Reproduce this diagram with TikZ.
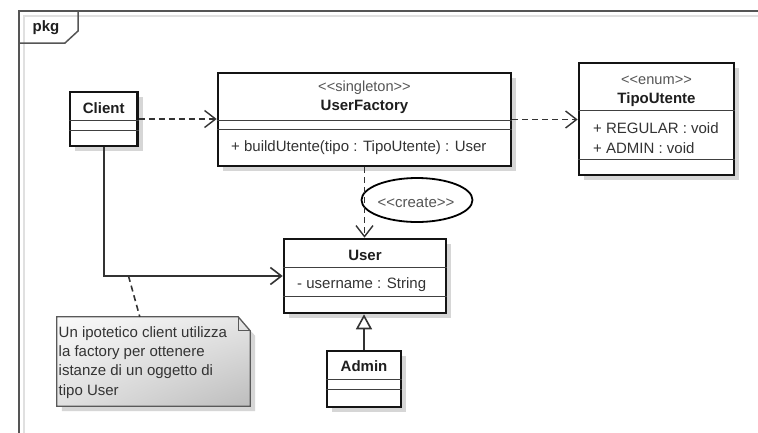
\documentclass[tikz,border=0pt]{standalone}
\usepackage{fontspec}
\setmainfont{Liberation Sans}
\usetikzlibrary{arrows.meta,shadows,calc,shapes.geometric,shadings}

% guillemet-free stereotype brackets (a kern stops the TeX ligature mapping)
\newcommand\stlt{<\kern0pt<}
\newcommand\stgt{>\kern0pt>}

\definecolor{inkname}{HTML}{1E1E1E}
\definecolor{inkmember}{HTML}{333333}
\definecolor{inkstereo}{HTML}{555555}
\definecolor{framegray}{HTML}{555555}

\begin{document}
\begin{tikzpicture}[x=1pt,y=-1pt,
  every node/.style={font=\fontsize{15}{17.5}\selectfont},
  classbox/.style={draw=black!92, line width=2.6pt, fill=white, inner sep=0pt,
    drop shadow={shadow xshift=5pt, shadow yshift=-5pt, fill=black!16, opacity=1}},
  sepline/.style={draw=black!75, line width=1.3pt},
  clsname/.style={font=\fontsize{15}{17.5}\selectfont\bfseries, text=inkname, inner sep=0pt},
  stereo/.style={font=\fontsize{14.6}{17}\selectfont, text=inkstereo, inner sep=0pt},
  member/.style={text=inkmember, inner sep=0pt, anchor=west},
  depend/.style={draw=black!80, line width=1.4pt, dash pattern=on 6pt off 4pt,
    -{Straight Barb[length=11pt,width=17pt]}},
  assoc/.style={draw=black!80, line width=1.6pt, -{Straight Barb[length=11pt,width=17pt]}},
  general/.style={draw=black!80, line width=1.6pt, -{Triangle[open,length=15pt,width=16pt,fill=white]}},
  noteline/.style={draw=black!80, line width=1.6pt, dash pattern=on 6pt off 4pt},
]
\useasboundingbox (0,0) rectangle (758,432);
\fill[white] (0,0) rectangle (758,432);

% package frame and its tab
\draw[black!12, line width=1.5pt] (24,440) -- (24,16) -- (770,16);
\draw[framegray, line width=1.5pt] (19,440) -- (19,11) -- (770,11);
\draw[framegray, line width=1.5pt] (19,43) -- (65,43) -- (78,31) -- (78,11);
\node[font=\fontsize{15}{17.5}\selectfont\bfseries, text=inkname, inner sep=0pt] (pkg) at (46,28) {pkg};

% Client
\node[classbox, minimum width=67.5pt, minimum height=54pt] (client) at (103.75,119) {};
\draw[sepline] ($(client.north west)+(0,30)$) -- ($(client.north east)+(0,30)$);
\draw[sepline] ($(client.north west)+(0,40)$) -- ($(client.north east)+(0,40)$);
\node[clsname] (clientname) at (103.75,108) {Client};

% UserFactory
\node[classbox, minimum width=293pt, minimum height=93pt] (uf) at (364.5,119.5) {};
\draw[sepline] ($(uf.north west)+(0,48.7)$) -- ($(uf.north east)+(0,48.7)$);
\draw[sepline] ($(uf.north west)+(0,58)$) -- ($(uf.north east)+(0,58)$);
\node[stereo] (ufst) at (364.5,88) {\stlt singleton\stgt};
\node[clsname] (ufname) at (364.5,107) {UserFactory};
\node[member] (ufop) at (231,148) {+ buildUtente(tipo : TipoUtente) : User};

% TipoUtente
\node[classbox, minimum width=155pt, minimum height=112pt] (tipo) at (656.5,119) {};
\draw[sepline] ($(tipo.north west)+(0,49)$) -- ($(tipo.north east)+(0,49)$);
\draw[sepline] ($(tipo.north west)+(0,98)$) -- ($(tipo.north east)+(0,98)$);
\node[stereo] (tipost) at (656.5,80) {\stlt enum\stgt};
\node[clsname] (tiponame) at (656.5,100) {TipoUtente};
\node[member] (tiporeg) at (593,128) {+ REGULAR : void};
\node[member] (tipoadm) at (593,148) {+ ADMIN : void};

% User
\node[classbox, minimum width=162pt, minimum height=74pt] (user) at (365,276) {};
\draw[sepline] ($(user.north west)+(0,30)$) -- ($(user.north east)+(0,30)$);
\draw[sepline] ($(user.north west)+(0,59)$) -- ($(user.north east)+(0,59)$);
\node[clsname] (username) at (365,255) {User};
\node[member] (userattr) at (297,285) {- username : String};

% Admin
\node[classbox, minimum width=74pt, minimum height=56pt] (admin) at (364,379) {};
\draw[sepline] ($(admin.north west)+(0,30)$) -- ($(admin.north east)+(0,30)$);
\draw[sepline] ($(admin.north west)+(0,40)$) -- ($(admin.north east)+(0,40)$);
\node[clsname] (adminname) at (364,366) {Admin};

% note
\node[minimum width=193pt, minimum height=89pt, inner sep=0pt] (note) at (153.5,361.5) {};
\fill[black!16] ($(note.north west)+(5,5)$) -- ($(note.north east)+(-8,5)$)
  -- ($(note.north east)+(5,19)$) -- ($(note.south east)+(5,5)$) -- ($(note.south west)+(5,5)$) -- cycle;
\path[upper left=black!2, upper right=black!10, lower left=black!12, lower right=black!26]
  (note.north west) -- ($(note.north east)+(-12,0)$) -- ($(note.north east)+(0,14)$)
  -- (note.south east) -- (note.south west) -- cycle;
\draw[black!65, line width=1.3pt, line join=miter]
  (note.north west) -- ($(note.north east)+(-12,0)$) -- ($(note.north east)+(0,14)$)
  -- (note.south east) -- (note.south west) -- cycle;
\draw[black!65, line width=1.1pt] ($(note.north east)+(-12,0)$) -- ++(0,14) -- ++(12,0);
\node[anchor=north west, inner sep=0pt, align=left, text=inkmember,
  font=\fontsize{15}{19.4}\selectfont] (notetext) at (58.5,326)
  {Un ipotetico client utilizza\\la factory per ottenere\\istanze di un oggetto di\\tipo User};

% "create" label
\node[ellipse, draw=black, line width=1.8pt, minimum width=111pt, minimum height=44pt,
  inner sep=0pt] (createlbl) at (417,200) {};
\node[stereo, font=\fontsize{15}{17.5}\selectfont] (createtxt) at (416,203) {\stlt create\stgt};

% connectors
\draw[depend] (client.east) -- (client.east -| uf.west);
\draw[depend] (uf.east) -- (uf.east -| tipo.west);
\draw[depend] (uf.south) -- (uf.south |- user.north);
\draw[assoc] (client.south) |- (user.west);
\coordinate (assocpt) at (128.5,276);
\coordinate (notetop) at ($(note.north west)+(83,0)$);
\draw[noteline] (assocpt) -- (notetop);
\draw[general] (admin.north) -- (admin.north |- user.south);
\end{tikzpicture}
\end{document}
